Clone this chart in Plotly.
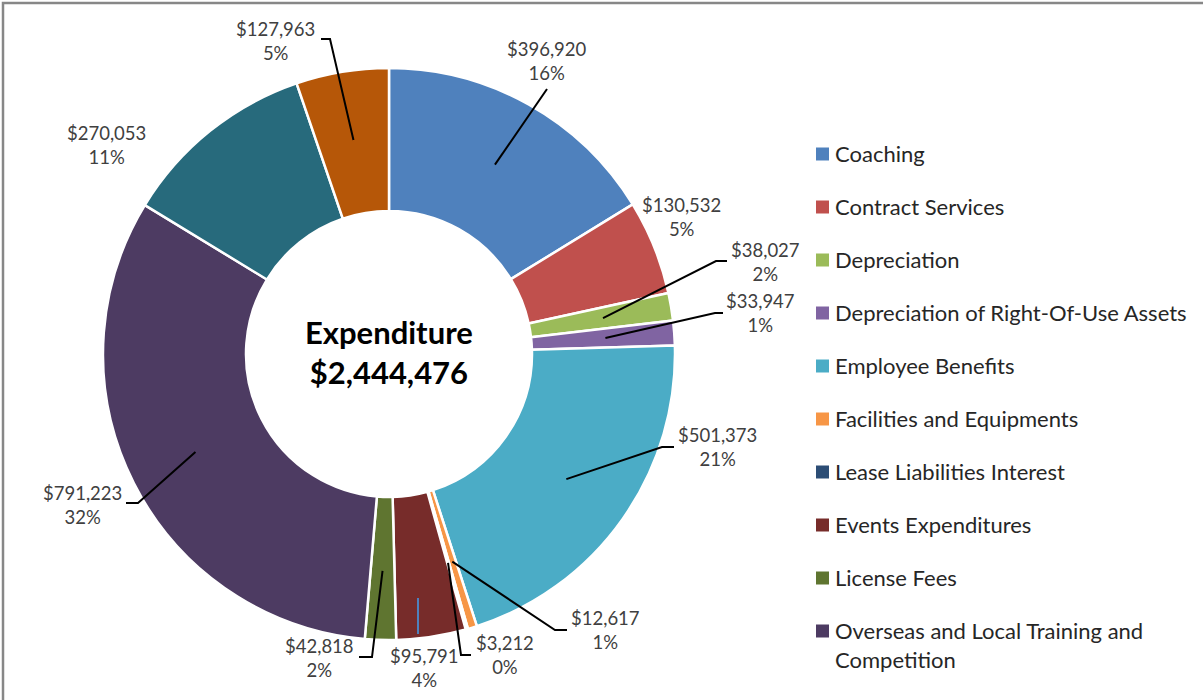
import math
import plotly.graph_objects as go

W, H = 1203, 700

categories = [
    "Coaching", "Contract Services", "Depreciation",
    "Depreciation of Right-Of-Use Assets", "Employee Benefits",
    "Facilities and Equipments", "Lease Liabilities Interest",
    "Events Expenditures", "License Fees",
    "Overseas and Local Training and<br>Competition",
    "Salaries", "Other Expenses",
]
values = [396920, 130532, 38027, 33947, 501373, 12617, 3212,
          95791, 42818, 791223, 270053, 127963]
colors = ["#4F81BD", "#C0504D", "#9BBB59", "#8064A2", "#4BACC6", "#F79646",
          "#2C4D75", "#772C2A", "#5F7530", "#4D3B62", "#276A7C", "#B65708"]

# label layout (pixel positions): label centre, leader-line elbow points
label_pos = [(547, 61), (681, 217), (765, 262), (760, 313), (717, 447),
             (605, 630), (505, 655), (424, 668), (319, 658), (82, 505),
             (106, 145), (275, 41)]
leader_pts = [
    [(547, 89)],
    None,
    [(716, 261), (727, 261)],
    [(715, 313), (723, 313)],
    [(662, 447), (674, 447)],
    [(555, 630), (567, 630)],
    [(461, 655), (471, 655)],
    None,
    [(372, 657), (359, 657)],
    [(138, 503), (126, 503)],
    None,
    [(330, 39), (321, 39)],
]

FONT = "Lato, 'Open Sans', Arial, sans-serif"
CX, CY, R = 389, 354, 286
HOLE = 0.5


def px(x):
    return x / W


def py(y):
    return 1 - y / H


total = sum(values)

fig = go.Figure()
fig.add_trace(go.Pie(
    labels=categories, values=values, sort=False, direction="clockwise",
    rotation=0, hole=HOLE, textinfo="none",
    marker=dict(colors=colors, line=dict(color="white", width=2.5)),
    domain=dict(x=[px(CX - R), px(CX + R)], y=[py(CY + R), py(CY - R)]),
    showlegend=False,
))

annotations = []
shapes = []

# data labels with leader lines
cum = 0
for i, v in enumerate(values):
    mid = (cum + v / 2) / total * 2 * math.pi
    cum += v
    pct = round(v / total * 100)
    lx, ly = label_pos[i]
    annotations.append(dict(
        x=px(lx), y=py(ly), xref="paper", yref="paper",
        text=f"${v:,}<br>{pct}%", showarrow=False,
        font=dict(family=FONT, size=18.5, color="#404040"),
        xanchor="center", yanchor="middle", align="center"))
    if leader_pts[i]:
        r0 = 217
        sx = CX + r0 * math.sin(mid)
        sy = CY - r0 * math.cos(mid)
        path = f"M {px(sx)},{py(sy)}"
        for (ex, ey) in leader_pts[i]:
            path += f" L {px(ex)},{py(ey)}"
        shapes.append(dict(type="path", path=path, xref="paper", yref="paper",
                           line=dict(color="black", width=2)))

# small blue leader stub within Events slice
shapes.append(dict(type="line", xref="paper", yref="paper",
                   x0=px(418), x1=px(418), y0=py(598), y1=py(634),
                   line=dict(color="#4F81BD", width=2)))

# centre text
annotations.append(dict(
    x=px(CX), y=py(352), xref="paper", yref="paper",
    text="<b>Expenditure<br>$2,444,476</b>", showarrow=False,
    font=dict(family=FONT, size=31, color="black"),
    xanchor="center", yanchor="middle", align="center"))

# legend
leg_y = 154
for i, name in enumerate(categories):
    lines = name.count("<br>") + 1
    if leg_y > H:
        break
    shapes.append(dict(type="rect", xref="paper", yref="paper",
                       x0=px(816), x1=px(829), y0=py(leg_y - 6.5), y1=py(leg_y + 6.5),
                       fillcolor=colors[i], line=dict(width=0)))
    annotations.append(dict(
        x=px(833), y=py(leg_y - 16), xref="paper", yref="paper",
        text=name, showarrow=False,
        font=dict(family=FONT, size=22, color="#262626"),
        xanchor="left", yanchor="top", align="left"))
    leg_y += 53 + (lines - 1) * 30

# outer border (top and left visible)
shapes.append(dict(type="path", xref="paper", yref="paper",
                   path=f"M {px(3)},{py(H + 5)} L {px(3)},{py(3)} L {px(W + 5)},{py(3)}",
                   line=dict(color="#878787", width=2.5)))

fig.update_layout(
    width=W, height=H, margin=dict(l=0, r=0, t=0, b=0),
    paper_bgcolor="white", plot_bgcolor="white",
    annotations=annotations, shapes=shapes, showlegend=False,
)

fig.write_html("out.html", config={"displayModeBar": False},
               post_script="document.body.style.margin='0';")
